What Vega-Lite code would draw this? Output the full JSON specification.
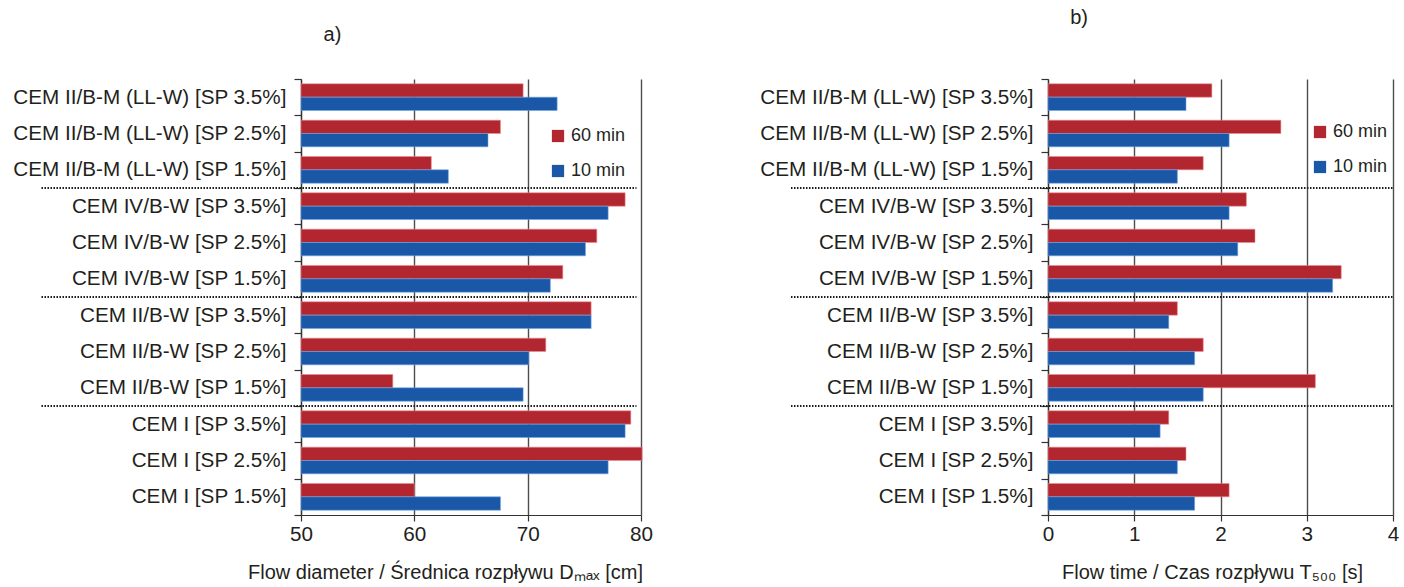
{
  "$schema": "https://vega.github.io/schema/vega-lite/v6.json",
  "padding": {"left": 12, "top": 8, "right": 5, "bottom": 5},
  "background": "white",
  "config": {
    "font": "Liberation Sans",
    "view": {"stroke": null},
    "axis": {
      "labelColor": "#231f20",
      "titleColor": "#231f20",
      "labelFont": "Liberation Sans",
      "titleFont": "Liberation Sans",
      "labelFontSize": 20.7,
      "titleFontSize": 20,
      "titleFontWeight": "normal",
      "domainColor": "#333333",
      "tickColor": "#333333",
      "domainWidth": 1.2,
      "tickWidth": 1.2
    },
    "title": {"fontSize": 20, "fontWeight": "normal", "color": "#231f20", "frame": "bounds", "anchor": "middle"},
    "legend": {"labelFontSize": 18, "labelColor": "#231f20", "symbolType": "square", "symbolSize": 150, "rowPadding": 17, "labelOffset": 4, "symbolStrokeWidth": 0}
  },
  "datasets": {
    "diameter": [
      {"cement": "CEM II/B-M (LL-W) [SP 3.5%]", "series": "60 min", "value": 69.6},
      {"cement": "CEM II/B-M (LL-W) [SP 3.5%]", "series": "10 min", "value": 72.6},
      {"cement": "CEM II/B-M (LL-W) [SP 2.5%]", "series": "60 min", "value": 67.6},
      {"cement": "CEM II/B-M (LL-W) [SP 2.5%]", "series": "10 min", "value": 66.5},
      {"cement": "CEM II/B-M (LL-W) [SP 1.5%]", "series": "60 min", "value": 61.5},
      {"cement": "CEM II/B-M (LL-W) [SP 1.5%]", "series": "10 min", "value": 63.0},
      {"cement": "CEM IV/B-W [SP 3.5%]", "series": "60 min", "value": 78.6},
      {"cement": "CEM IV/B-W [SP 3.5%]", "series": "10 min", "value": 77.1},
      {"cement": "CEM IV/B-W [SP 2.5%]", "series": "60 min", "value": 76.1},
      {"cement": "CEM IV/B-W [SP 2.5%]", "series": "10 min", "value": 75.1},
      {"cement": "CEM IV/B-W [SP 1.5%]", "series": "60 min", "value": 73.1},
      {"cement": "CEM IV/B-W [SP 1.5%]", "series": "10 min", "value": 72.0},
      {"cement": "CEM II/B-W [SP 3.5%]", "series": "60 min", "value": 75.6},
      {"cement": "CEM II/B-W [SP 3.5%]", "series": "10 min", "value": 75.6},
      {"cement": "CEM II/B-W [SP 2.5%]", "series": "60 min", "value": 71.6},
      {"cement": "CEM II/B-W [SP 2.5%]", "series": "10 min", "value": 70.1},
      {"cement": "CEM II/B-W [SP 1.5%]", "series": "60 min", "value": 58.1},
      {"cement": "CEM II/B-W [SP 1.5%]", "series": "10 min", "value": 69.6},
      {"cement": "CEM I [SP 3.5%]", "series": "60 min", "value": 79.1},
      {"cement": "CEM I [SP 3.5%]", "series": "10 min", "value": 78.6},
      {"cement": "CEM I [SP 2.5%]", "series": "60 min", "value": 80.1},
      {"cement": "CEM I [SP 2.5%]", "series": "10 min", "value": 77.1},
      {"cement": "CEM I [SP 1.5%]", "series": "60 min", "value": 60.0},
      {"cement": "CEM I [SP 1.5%]", "series": "10 min", "value": 67.6}
    ],
    "time": [
      {"cement": "CEM II/B-M (LL-W) [SP 3.5%]", "series": "60 min", "value": 1.9},
      {"cement": "CEM II/B-M (LL-W) [SP 3.5%]", "series": "10 min", "value": 1.6},
      {"cement": "CEM II/B-M (LL-W) [SP 2.5%]", "series": "60 min", "value": 2.7},
      {"cement": "CEM II/B-M (LL-W) [SP 2.5%]", "series": "10 min", "value": 2.1},
      {"cement": "CEM II/B-M (LL-W) [SP 1.5%]", "series": "60 min", "value": 1.8},
      {"cement": "CEM II/B-M (LL-W) [SP 1.5%]", "series": "10 min", "value": 1.5},
      {"cement": "CEM IV/B-W [SP 3.5%]", "series": "60 min", "value": 2.3},
      {"cement": "CEM IV/B-W [SP 3.5%]", "series": "10 min", "value": 2.1},
      {"cement": "CEM IV/B-W [SP 2.5%]", "series": "60 min", "value": 2.4},
      {"cement": "CEM IV/B-W [SP 2.5%]", "series": "10 min", "value": 2.2},
      {"cement": "CEM IV/B-W [SP 1.5%]", "series": "60 min", "value": 3.4},
      {"cement": "CEM IV/B-W [SP 1.5%]", "series": "10 min", "value": 3.3},
      {"cement": "CEM II/B-W [SP 3.5%]", "series": "60 min", "value": 1.5},
      {"cement": "CEM II/B-W [SP 3.5%]", "series": "10 min", "value": 1.4},
      {"cement": "CEM II/B-W [SP 2.5%]", "series": "60 min", "value": 1.8},
      {"cement": "CEM II/B-W [SP 2.5%]", "series": "10 min", "value": 1.7},
      {"cement": "CEM II/B-W [SP 1.5%]", "series": "60 min", "value": 3.1},
      {"cement": "CEM II/B-W [SP 1.5%]", "series": "10 min", "value": 1.8},
      {"cement": "CEM I [SP 3.5%]", "series": "60 min", "value": 1.4},
      {"cement": "CEM I [SP 3.5%]", "series": "10 min", "value": 1.3},
      {"cement": "CEM I [SP 2.5%]", "series": "60 min", "value": 1.6},
      {"cement": "CEM I [SP 2.5%]", "series": "10 min", "value": 1.5},
      {"cement": "CEM I [SP 1.5%]", "series": "60 min", "value": 2.1},
      {"cement": "CEM I [SP 1.5%]", "series": "10 min", "value": 1.7}
    ],
    "groupEnds": [
      {"cement": "CEM II/B-M (LL-W) [SP 1.5%]"},
      {"cement": "CEM IV/B-W [SP 1.5%]"},
      {"cement": "CEM II/B-W [SP 1.5%]"}
    ]
  },
  "bounds": "flush",
  "spacing": 407,
  "hconcat": [
    {
      "title": {"text": "a)", "offset": 23},
      "width": 340,
      "height": 436,
      "layer": [
        {
          "data": {"name": "diameter"},
          "mark": {"type": "bar", "strokeWidth": 1, "strokeOpacity": 0.55},
          "encoding": {
            "y": {
              "field": "cement", "type": "nominal", "sort": null,
              "scale": {"domain": ["CEM II/B-M (LL-W) [SP 3.5%]", "CEM II/B-M (LL-W) [SP 2.5%]", "CEM II/B-M (LL-W) [SP 1.5%]", "CEM IV/B-W [SP 3.5%]", "CEM IV/B-W [SP 2.5%]", "CEM IV/B-W [SP 1.5%]", "CEM II/B-W [SP 3.5%]", "CEM II/B-W [SP 2.5%]", "CEM II/B-W [SP 1.5%]", "CEM I [SP 3.5%]", "CEM I [SP 2.5%]", "CEM I [SP 1.5%]"], "paddingInner": 0, "paddingOuter": 0},
              "axis": {"title": null, "tickBand": "extent", "tickSize": 7, "labelPadding": 8, "labelLimit": 400, "grid": false}
            },
            "yOffset": {"field": "series", "type": "nominal", "scale": {"domain": ["60 min", "10 min"], "paddingInner": 0, "paddingOuter": 0.36}},
            "x": {
              "field": "value", "type": "quantitative",
              "scale": {"domain": [50, 80], "nice": false, "zero": false},
              "axis": {"title": "Flow diameter / Średnica rozpływu Dₘₐₓ [cm]", "values": [50, 60, 70, 80], "grid": true, "gridColor": "#4d4d4d", "gridWidth": 1.4, "tickSize": 6, "labelPadding": 3, "labelFlush": false, "titlePadding": 19, "titleX": 144}
            },
            "x2": {"datum": 50},
            "color": {
              "field": "series", "type": "nominal",
              "scale": {"domain": ["60 min", "10 min"], "range": ["#b2272f", "#1a57a6"]},
              "legend": {"title": null, "orient": "none", "legendX": 248, "legendY": 48}
            },
            "stroke": {
              "field": "series", "type": "nominal",
              "scale": {"domain": ["60 min", "10 min"], "range": ["#f08a94", "#6aa4e6"]},
              "legend": null
            }
          }
        },
        {
          "data": {"name": "groupEnds"},
          "mark": {"type": "rule", "color": "#1a1a1a", "strokeWidth": 2, "strokeDash": [1.5, 1.5]},
          "encoding": {
            "y": {"field": "cement", "type": "nominal", "bandPosition": 1},
            "x": {"datum": 27.1},
            "x2": {"datum": 79.6}
          }
        }
      ]
    },
    {
      "title": {"text": "b)", "offset": 40},
      "width": 345,
      "height": 436,
      "layer": [
        {
          "data": {"name": "time"},
          "mark": {"type": "bar", "strokeWidth": 1, "strokeOpacity": 0.55},
          "encoding": {
            "y": {
              "field": "cement", "type": "nominal", "sort": null,
              "scale": {"domain": ["CEM II/B-M (LL-W) [SP 3.5%]", "CEM II/B-M (LL-W) [SP 2.5%]", "CEM II/B-M (LL-W) [SP 1.5%]", "CEM IV/B-W [SP 3.5%]", "CEM IV/B-W [SP 2.5%]", "CEM IV/B-W [SP 1.5%]", "CEM II/B-W [SP 3.5%]", "CEM II/B-W [SP 2.5%]", "CEM II/B-W [SP 1.5%]", "CEM I [SP 3.5%]", "CEM I [SP 2.5%]", "CEM I [SP 1.5%]"], "paddingInner": 0, "paddingOuter": 0},
              "axis": {"title": null, "tickBand": "extent", "tickSize": 7, "labelPadding": 8, "labelLimit": 400, "grid": false}
            },
            "yOffset": {"field": "series", "type": "nominal", "scale": {"domain": ["60 min", "10 min"], "paddingInner": 0, "paddingOuter": 0.36}},
            "x": {
              "field": "value", "type": "quantitative",
              "scale": {"domain": [0, 4], "nice": false},
              "axis": {"title": "Flow time / Czas rozpływu T₅₀₀ [s]", "values": [0, 1, 2, 3, 4], "format": "d", "grid": true, "gridColor": "#4d4d4d", "gridWidth": 1.4, "tickSize": 6, "labelPadding": 3, "labelFlush": false, "titlePadding": 19, "titleX": 164}
            },
            "color": {
              "field": "series", "type": "nominal",
              "scale": {"domain": ["60 min", "10 min"], "range": ["#b2272f", "#1a57a6"]},
              "legend": {"title": null, "orient": "none", "legendX": 263, "legendY": 44}
            },
            "stroke": {
              "field": "series", "type": "nominal",
              "scale": {"domain": ["60 min", "10 min"], "range": ["#f08a94", "#6aa4e6"]},
              "legend": null
            }
          }
        },
        {
          "data": {"name": "groupEnds"},
          "mark": {"type": "rule", "color": "#1a1a1a", "strokeWidth": 2, "strokeDash": [1.5, 1.5]},
          "encoding": {
            "y": {"field": "cement", "type": "nominal", "bandPosition": 1},
            "x": {"datum": -2.98},
            "x2": {"datum": 4}
          }
        }
      ]
    }
  ],
  "resolve": {"scale": {"color": "independent", "stroke": "independent"}, "legend": {"color": "independent"}}
}
